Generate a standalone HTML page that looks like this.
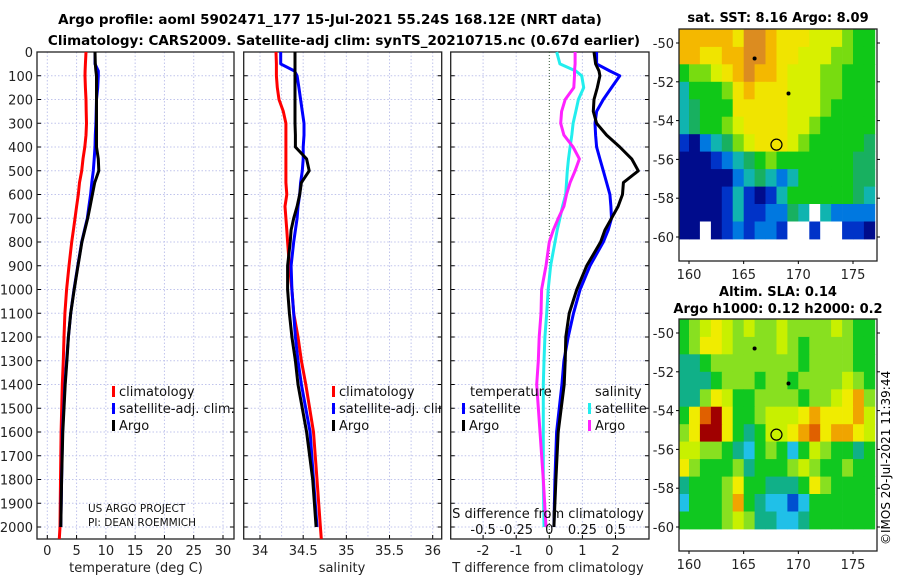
<!DOCTYPE html>
<html><head><meta charset="utf-8">
<style>
html,body{margin:0;padding:0;background:#fff;}
svg{display:block;font-family:"DejaVu Sans","Liberation Sans",sans-serif;}
</style></head>
<body>
<svg id="fig" width="900" height="580" viewBox="0 0 900 580" xmlns="http://www.w3.org/2000/svg">
<text x="330" y="24" text-anchor="middle" font-size="13.5" font-weight="bold">Argo profile: aoml 5902471_177 15-Jul-2021 55.24S 168.12E (NRT data)</text>
<text x="344" y="45" text-anchor="middle" font-size="13.5" font-weight="bold">Climatology: CARS2009. Satellite-adj clim: synTS_20210715.nc (0.67d earlier)</text>
<text x="778" y="22" text-anchor="middle" font-size="13" font-weight="bold">sat. SST: 8.16 Argo: 8.09</text>
<text x="778" y="296" text-anchor="middle" font-size="13" font-weight="bold">Altim. SLA: 0.14</text>
<text x="778" y="313" text-anchor="middle" font-size="13" font-weight="bold">Argo h1000: 0.12 h2000: 0.2</text>
<text transform="translate(890,545) rotate(-90)" font-size="12">©IMOS 20-Jul-2021 11:39:44</text>
<g id="layer"></g>
</svg>
<script>
// ---------- data ----------
const depths = [0,50,80,100,150,200,250,300,350,400,450,500,550,600,650,700,750,800,900,1000,1100,1200,1300,1400,1600,1800,2000];
const depthsClim = [0,50,80,100,150,200,250,300,350,400,450,500,550,600,650,700,750,800,900,1000,1100,1200,1300,1400,1600,1800,2000,2050];
const tempClim = [6.6,6.5,6.45,6.44,6.5,6.6,6.65,6.7,6.6,6.4,6.1,5.87,5.5,5.3,5.0,4.73,4.45,4.16,3.7,3.3,3.0,2.85,2.73,2.56,2.35,2.25,2.17,2.05];
const tempSat = [8.14,8.14,8.7,8.7,8.6,8.4,8.35,8.3,8.2,8.14,8.0,7.86,7.6,7.4,7.1,6.83,6.35,5.87,5.2,4.56,3.99,3.6,3.3,3.0,2.6,2.45,2.3];
const tempArgo = [8.14,8.2,8.3,8.4,8.4,8.4,8.4,8.4,8.4,8.4,8.7,8.8,8.1,7.7,7.3,6.9,6.4,5.9,5.25,4.6,4.0,3.6,3.35,3.05,2.65,2.45,2.3];
const salClim = [34.185,34.19,34.19,34.19,34.2,34.22,34.27,34.3,34.3,34.3,34.3,34.3,34.3,34.31,34.29,34.3,34.31,34.32,34.34,34.37,34.39,34.44,34.48,34.53,34.62,34.66,34.7,34.71];
const salSat = [34.24,34.24,34.4,34.43,34.45,34.47,34.49,34.51,34.51,34.5,34.5,34.49,34.47,34.46,34.44,34.43,34.41,34.39,34.36,34.37,34.39,34.41,34.44,34.48,34.58,34.62,34.66];
const salArgo = [34.405,34.405,34.405,34.405,34.405,34.405,34.405,34.405,34.41,34.41,34.54,34.57,34.48,34.46,34.43,34.39,34.36,34.35,34.32,34.32,34.34,34.37,34.41,34.44,34.54,34.61,34.65];
const tDiffSat = [1.43,1.43,1.83,2.13,1.88,1.63,1.43,1.38,1.4,1.43,1.53,1.63,1.73,1.83,1.86,1.88,1.78,1.63,1.23,0.93,0.73,0.57,0.44,0.38,0.22,0.17,0.14];
const tDiffArgo = [1.35,1.4,1.5,1.53,1.45,1.35,1.33,1.43,1.73,2.13,2.49,2.69,2.24,2.21,2.08,1.88,1.68,1.55,1.13,0.83,0.6,0.5,0.48,0.45,0.27,0.2,0.14];
const sDiffSat = [0.056,0.08,0.2,0.245,0.26,0.22,0.2,0.18,0.17,0.157,0.145,0.136,0.13,0.124,0.1,0.08,0.06,0.043,0.01,-0.008,-0.02,-0.033,-0.04,-0.045,-0.045,-0.045,-0.04];
const sDiffArgo = [0.195,0.195,0.19,0.19,0.185,0.12,0.093,0.086,0.11,0.18,0.227,0.195,0.157,0.13,0.11,0.068,0.03,0,-0.025,-0.058,-0.063,-0.076,-0.083,-0.095,-0.07,-0.045,-0.025];
const depthTicks = [0,100,200,300,400,500,600,700,800,900,1000,1100,1200,1300,1400,1500,1600,1700,1800,1900,2000];
const tempTicks = [0,5,10,15,20,25,30];
const salTicks = [34,34.5,35,35.5,36];
const salGrid = [34,34.25,34.5,34.75,35,35.25,35.5,35.75,36];
const tDiffTicks = [-2,-1,0,1,2];
const sDiffTicks = [-0.5,-0.25,0,0.25,0.5];
const sDiffLabels = ["-0.5","-0.25","0","0.25","0.5"];
const lonTicks = [160,165,170,175];
const latTicks = [-50,-52,-54,-56,-58,-60];
// map grids: rows from -49.3 south in 0.9 deg steps, columns 159..176 by 1 deg
const sstGrid = [
[9,9,9,9,9,8,10,10,9,8,8,8,7,7,7,6,5,5],
[9,9,8,8,9,9,10,10,9,8,8,7,7,7,6,6,5,5],
[5,6,6,7,8,9,10,9,9,8,7,7,7,6,6,5,5,5],
[3,5,5,5,6,8,9,8,8,8,7,7,7,6,6,5,5,5],
[3,4,5,5,5,8,8,8,8,8,7,7,7,6,5,5,5,5],
[3,4,5,5,6,7,8,8,8,8,7,7,6,5,5,5,5,5],
[1,0,2,3,4,6,7,8,8,8,7,6,5,5,5,5,5,4],
[0,0,0,1,2,3,4,5,6,5,5,5,5,5,5,5,4,4],
[0,0,0,0,0,2,3,4,3,2,3,5,5,5,5,5,4,4],
[0,0,0,0,1,3,1,0,1,3,5,5,5,5,5,5,4,3],
[0,0,0,0,1,3,1,1,2,2,4,3,-1,3,2,2,2,2],
[0,0,-1,0,1,2,1,2,2,1,-1,-1,1,-1,-1,1,1,0]];
const slaGrid = [
[3,4,5,6,5,4,5,4,4,5,4,4,4,4,5,4,3,3],
[3,4,6,6,5,4,4,4,4,5,4,3,4,4,4,4,3,3],
[2,2,3,4,4,4,4,4,4,4,4,3,4,4,4,4,3,3],
[2,2,2,3,4,4,4,3,4,4,3,4,4,4,4,5,4,3],
[2,2,4,6,5,3,3,4,4,4,4,3,4,4,5,6,7,4],
[3,6,8,9,6,3,3,4,5,5,5,6,7,6,6,6,7,5],
[4,6,9,9,6,3,2,3,5,5,6,7,8,6,7,7,6,5],
[5,5,4,4,3,2,1,3,4,3,1,3,5,4,3,3,2,3],
[6,4,3,3,3,4,2,3,3,3,4,5,4,3,3,4,3,3],
[2,3,3,3,4,6,3,3,2,2,2,3,6,4,3,3,3,3],
[1,3,3,3,4,7,3,2,1,1,0,1,3,3,3,3,3,3],
[3,3,3,3,4,5,4,2,2,1,1,2,3,3,3,3,3,3]];
const floatLon = [168.0];
const floatLat = [-55.24];
const otherLon = [166.0, 169.1];
const otherLat = [-50.8, -52.6];

// ---------- helpers ----------
const NS = "http://www.w3.org/2000/svg";
const layer = document.getElementById('layer');
function mk(tag, attrs, parent){
  const e = document.createElementNS(NS, tag);
  for (const k in attrs) e.setAttribute(k, attrs[k]);
  (parent||layer).appendChild(e);
  return e;
}
function lin(d0,d1,r0,r1){ return v => r0 + (v-d0)/(d1-d0)*(r1-r0); }
const yD = lin(0, 2000, 52, 527);
const TOP = 52, BOT = 539;

function panel(name, x0, x1, xs, gridVals, tickVals, tickLabels, labelY){
  const g = mk('g', {});
  
  
  gridVals.forEach(v => {
    const l = mk('line', {x1:xs(v), x2:xs(v), y1:TOP, y2:BOT, stroke:'#c0c4ec', 'stroke-width':1, 'stroke-dasharray':'1.5,2'}, g);
    
    
  });
  depthTicks.forEach(d => {
    const l = mk('line', {x1:x0, x2:x1, y1:yD(d), y2:yD(d), stroke:'#c0c4ec', 'stroke-width':1, 'stroke-dasharray':'1.5,2'}, g);
    
    
    mk('line', {x1:x0, x2:x0+4, y1:yD(d), y2:yD(d), stroke:'#000'}, g);
    mk('line', {x1:x1-4, x2:x1, y1:yD(d), y2:yD(d), stroke:'#000'}, g);
  });
  tickVals.forEach((v,i) => {
    mk('line', {x1:xs(v), x2:xs(v), y1:BOT, y2:BOT-4, stroke:'#000'}, g);
    if (labelY){
      const t = mk('text', {x:xs(v), y:labelY, 'text-anchor':'middle', 'font-size':13, fill:'#222'}, g);
      t.textContent = tickLabels ? tickLabels[i] : String(v);
      
      
    }
  });
  const f = mk('rect', {x:x0, y:TOP, width:x1-x0, height:BOT-TOP, fill:'none', stroke:'#222', 'stroke-width':1.3}, g);
  
  
  return g;
}
function curve(g, name, xs, vals, ds, color){
  const pts = vals.map((v,i) => xs(v).toFixed(1)+','+yD(ds[i]).toFixed(1)).join(' ');
  const p = mk('polyline', {points:pts, fill:'none', stroke:color, 'stroke-width':3, 'stroke-linejoin':'round'}, g);
  
  
}
function legendRow(g, x, y, color, label, name){
  mk('rect', {x:x, y:y-10, width:3, height:11, fill:color}, g);
  const t = mk('text', {x:x+7, y:y, 'font-size':13, fill:'#111'}, g);
  t.textContent = label;
  
  
}

// depth labels
depthTicks.forEach(d => {
  const t = mk('text', {x:33, y:yD(d)+5, 'text-anchor':'end', 'font-size':13, fill:'#222'});
  t.textContent = String(d);
  
  
});

// panel 1: temperature
const xT = lin(0, 30, 47.3, 223);
const p1 = panel('temperature-panel', 37, 234, xT, tempTicks, tempTicks, null, 555);
curve(p1, 'temp-climatology-line', xT, tempClim, depthsClim, '#ff0000');
curve(p1, 'temp-satellite-line', xT, tempSat, depths, '#0000ff');
curve(p1, 'temp-argo-line', xT, tempArgo, depths, '#000000');
legendRow(p1, 112, 396, '#ff0000', 'climatology', 'legend-climatology');
legendRow(p1, 112, 413, '#0000ff', 'satellite-adj. clim.', 'legend-satellite');
legendRow(p1, 112, 430, '#000000', 'Argo', 'legend-argo');
let t;
t = mk('text', {x:88, y:512, 'font-size':10.5, fill:'#111'}, p1); t.textContent='US ARGO PROJECT';


t = mk('text', {x:88, y:526, 'font-size':10.5, fill:'#111'}, p1); t.textContent='PI: DEAN ROEMMICH';


t = mk('text', {x:136, y:572, 'text-anchor':'middle', 'font-size':13, fill:'#222'}, p1); t.textContent='temperature (deg C)';



// panel 2: salinity
const xS = lin(34, 36, 260, 432.7);
const p2 = panel('salinity-panel', 243.7, 441.7, xS, salGrid, salTicks, null, 555);
curve(p2, 'sal-climatology-line', xS, salClim, depthsClim, '#ff0000');
curve(p2, 'sal-satellite-line', xS, salSat, depths, '#0000ff');
curve(p2, 'sal-argo-line', xS, salArgo, depths, '#000000');
const cp = document.createElementNS(NS,'clipPath'); cp.setAttribute('id','c2');
mk('rect',{x:243.7,y:52,width:198,height:487},cp); layer.appendChild(cp);
const lg2 = mk('g', {'clip-path':'url(#c2)'}, p2);
legendRow(lg2, 332, 396, '#ff0000', 'climatology', 'legend-climatology');
legendRow(lg2, 332, 413, '#0000ff', 'satellite-adj. clim.', 'legend-satellite');
legendRow(lg2, 332, 430, '#000000', 'Argo', 'legend-argo');
t = mk('text', {x:342, y:572, 'text-anchor':'middle', 'font-size':13, fill:'#222'}, p2); t.textContent='salinity';



// panel 3: differences
const xTd = lin(0, 1, 549.3, 582.4);
const xSd = lin(0, 0.5, 549.3, 615.5);
const p3 = panel('difference-panel', 450.7, 649, xTd, [-2,-1,1,2], tDiffTicks, null, 555);
mk('line', {x1:xTd(0), x2:xTd(0), y1:TOP, y2:BOT, stroke:'#335533', 'stroke-width':1, 'stroke-dasharray':'1,2'}, p3);
curve(p3, 'sdiff-satellite-line', xSd, sDiffSat, depths, '#22eeee');
curve(p3, 'sdiff-argo-line', xSd, sDiffArgo, depths, '#ff22ff');
curve(p3, 'tdiff-satellite-line', xTd, tDiffSat, depths, '#0000ff');
curve(p3, 'tdiff-argo-line', xTd, tDiffArgo, depths, '#000000');
t = mk('text', {x:470, y:396, 'font-size':13, fill:'#111'}, p3); t.textContent='temperature';


t = mk('text', {x:595, y:396, 'font-size':13, fill:'#111'}, p3); t.textContent='salinity';


legendRow(p3, 462, 413, '#0000ff', 'satellite', 'legend-t-satellite');
legendRow(p3, 462, 430, '#000000', 'Argo', 'legend-t-argo');
legendRow(p3, 588, 413, '#22eeee', 'satellite', 'legend-s-satellite');
legendRow(p3, 588, 430, '#ff22ff', 'Argo', 'legend-s-argo');
t = mk('text', {x:548, y:518, 'text-anchor':'middle', 'font-size':13, fill:'#111'}, p3); t.textContent='S difference from climatology';


sDiffTicks.forEach((v,i) => {
  const s = mk('text', {x:xSd(v), y:534, 'text-anchor':'middle', 'font-size':13, fill:'#111'}, p3);
  s.textContent = sDiffLabels[i];
  
  
});
t = mk('text', {x:548, y:572, 'text-anchor':'middle', 'font-size':13, fill:'#222'}, p3); t.textContent='T difference from climatology';



// maps
const sstPal = {'-1':'#ffffff',0:'#000c8c',1:'#0033c8',2:'#0078e0',3:'#10b4b0',4:'#18b060',5:'#10c818',6:'#78dc10',7:'#d8f000',8:'#f0e400',9:'#f4b800',10:'#dc8c20'};
const slaPal = {0:'#0050d0',1:'#20c0e8',2:'#10b088',3:'#10c820',4:'#88e020',5:'#c8f000',6:'#f0ec00',7:'#f0a400',8:'#e06000',9:'#a00000'};
function drawMap(name, grid, pal, x0, x1, ytop, ybot, ym50, ym60){
  const g = mk('g', {});
  
  
  const xL = lin(160, 175, 689, 853);
  const yL = lin(-50, -60, ym50, ym60);
  grid.forEach((row, r) => row.forEach((v, c) => {
    const la0 = -49.3 - r*0.9, la1 = la0 - 0.9;
    const lo0 = 159 + c, lo1 = lo0 + 1;
    const xa = Math.max(x0, xL(lo0)), xb = Math.min(x1, xL(lo1));
    const ya = Math.max(ytop, yL(la0));
    const cell = mk('rect', {x:xa.toFixed(1), y:ya.toFixed(1), width:(xb-xa+0.4).toFixed(1), height:(yL(la1)-ya+0.4).toFixed(1), fill:pal[v]}, g);
    
    
  }));
  otherLon.forEach((lo,i) => {
    const d = mk('circle', {cx:xL(lo), cy:yL(otherLat[i]), r:2, fill:'#000'}, g);
    
    
  });
  floatLon.forEach((lo,i) => {
    const c = mk('circle', {cx:xL(lo), cy:yL(floatLat[i]), r:5.5, fill:'none', stroke:'#000', 'stroke-width':1.2}, g);
    
    
  });
  const f = mk('rect', {x:x0, y:ytop, width:x1-x0, height:ybot-ytop, fill:'none', stroke:'#222', 'stroke-width':1.3}, g);
  
  
  lonTicks.forEach(lo => {
    mk('line', {x1:xL(lo), x2:xL(lo), y1:ybot, y2:ybot+3, stroke:'#000'}, g);
    const s = mk('text', {x:xL(lo), y:ybot+18, 'text-anchor':'middle', 'font-size':13, fill:'#222'}, g);
    s.textContent = String(lo);
    
    
  });
  latTicks.forEach(la => {
    mk('line', {x1:x0-3, x2:x0, y1:yL(la), y2:yL(la), stroke:'#000'}, g);
    mk('line', {x1:x1, x2:x1+3, y1:yL(la), y2:yL(la), stroke:'#000'}, g);
    const s = mk('text', {x:674, y:yL(la)+5, 'text-anchor':'end', 'font-size':13, fill:'#222'}, g);
    s.textContent = String(la);
    
    
  });
}
drawMap('sst-map', sstGrid, sstPal, 679, 877, 29, 261, 43, 237);
drawMap('sla-map', slaGrid, slaPal, 679, 877, 319, 551, 333, 527);
</script>
</body></html>
